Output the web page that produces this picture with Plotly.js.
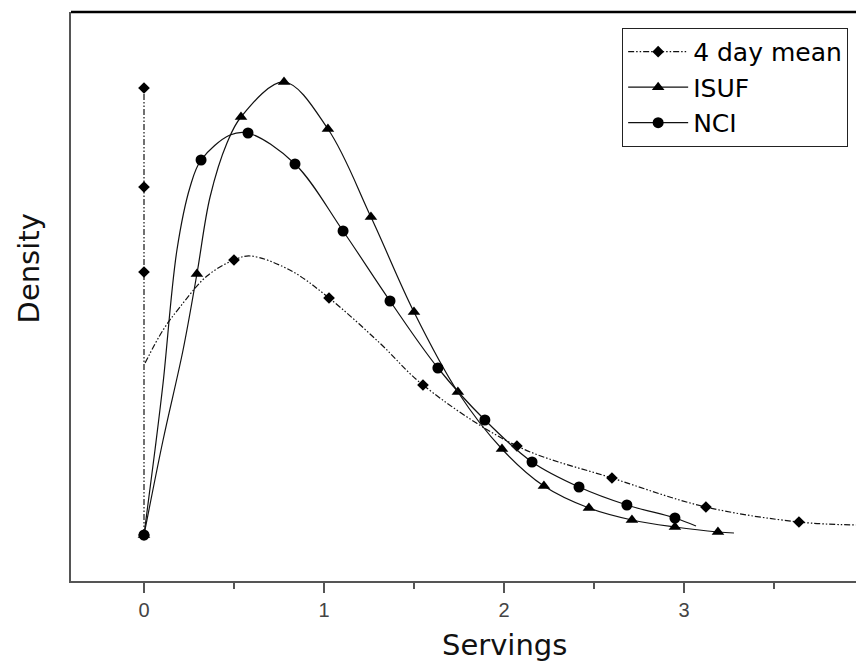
<!DOCTYPE html>
<html>
<head>
<meta charset="utf-8">
<script src="https://cdn.plot.ly/plotly-3.0.1.min.js"></script>
<style>html,body{margin:0;padding:0;background:#fff;}</style>
</head>
<body>
<div id="chart" style="width:856px;height:669px;"></div>
<script>
// ---- Data (servings vs density, arbitrary density units) ----
// 4 day mean: spike at zero servings
const meanZeroX = [0, 0, 0, 0];
const meanZeroY = [0, 0.526, 0.696, 0.894];
// 4 day mean: smooth curve (marked = diamond markers)
const meanX = [0.006, 0.106, 0.2, 0.35, 0.5, 0.59, 0.81, 1.028, 1.31, 1.55, 2.072, 2.6, 3.122, 3.639, 3.956];
const meanY = [0.344, 0.41, 0.456, 0.518, 0.55, 0.558, 0.53, 0.474, 0.384, 0.30, 0.178, 0.114, 0.056, 0.026, 0.02];
const meanMarked = [0, 0, 0, 0, 1, 0, 0, 1, 0, 1, 1, 1, 1, 1, 0];

// ISUF
const isufX = [0, 0.106, 0.217, 0.294, 0.367, 0.461, 0.539, 0.778, 1.022, 1.261, 1.5, 1.744, 1.989, 2.222, 2.472, 2.711, 2.95, 3.189, 3.278];
const isufY = [0, 0.19, 0.37, 0.522, 0.676, 0.784, 0.836, 0.906, 0.812, 0.636, 0.446, 0.286, 0.172, 0.098, 0.054, 0.030, 0.016, 0.006, 0.004];
const isufMarked = [1, 0, 0, 1, 0, 0, 1, 1, 1, 1, 1, 1, 1, 1, 1, 1, 1, 1, 0];

// NCI
const nciX = [0, 0.061, 0.106, 0.183, 0.256, 0.317, 0.478, 0.578, 0.839, 1.106, 1.367, 1.633, 1.894, 2.156, 2.417, 2.683, 2.95, 3.067];
const nciY = [0, 0.17, 0.304, 0.57, 0.696, 0.75, 0.80, 0.804, 0.742, 0.608, 0.468, 0.334, 0.23, 0.146, 0.096, 0.06, 0.034, 0.018];
const nciMarked = [1, 0, 0, 0, 0, 1, 0, 1, 1, 1, 1, 1, 1, 1, 1, 1, 1, 0];

const xTickVals = [0, 1, 2, 3];
const xTickText = ['0', '1', '2', '3'];
const seriesNames = ['4 day mean', 'ISUF', 'NCI'];
const xTitle = 'Servings';
const yTitle = 'Density';

const dashDotDot = '6px,2px,1.5px,2px,1.5px,2px';
const lineCol = '#111';
const markCol = '#000';
const textFont = 'DejaVu Sans, Liberation Sans, sans-serif';

function pick(arr, flags) { return arr.filter((v, i) => flags[i]); }

function series(name, xs, ys, flags, symbol, msize, dash) {
  return [
    { // smooth curve
      x: xs, y: ys, name: name, mode: 'lines', showlegend: false, legendgroup: name,
      line: {shape: 'spline', smoothing: 1, color: lineCol, width: 1.2, dash: dash || 'solid'}
    },
    { // markers
      x: pick(xs, flags), y: pick(ys, flags), name: name, mode: 'markers', showlegend: false, legendgroup: name,
      marker: {symbol: symbol, size: msize, color: markCol, opacity: 1, line: {width: 0}}
    },
    { // legend entry only
      x: [null], y: [null], name: name, mode: 'lines+markers', showlegend: true, legendgroup: name,
      line: {color: lineCol, width: 1.2, dash: dash || 'solid'},
      marker: {symbol: symbol, size: msize, color: markCol, opacity: 1, line: {width: 0}}
    }
  ];
}

const traces = [
  {
    x: meanZeroX, y: meanZeroY, name: seriesNames[0], mode: 'lines+markers', showlegend: false,
    line: {color: lineCol, width: 1.2, dash: dashDotDot},
    marker: {symbol: 'diamond', size: 9, color: markCol, opacity: 1, line: {width: 0}}
  },
  ...series(seriesNames[0], meanX, meanY, meanMarked, 'diamond', 9, dashDotDot),
  ...series(seriesNames[1], isufX, isufY, isufMarked, 'triangle-up', 11, null),
  ...series(seriesNames[2], nciX, nciY, nciMarked, 'circle', 11, null)
];

const layout = {
  width: 856, height: 669,
  margin: {l: 71, r: 0, t: 12, b: 88},
  paper_bgcolor: '#fff', plot_bgcolor: '#fff',
  font: {family: textFont, color: '#000'},
  showlegend: true,
  legend: {
    x: 0.99, y: 0.972, xanchor: 'right', yanchor: 'top',
    bordercolor: '#222', borderwidth: 1, bgcolor: '#fff',
    font: {size: 25, color: '#000', family: textFont}, itemwidth: 60, tracegroupgap: 0
  },
  xaxis: {
    range: [-0.4056, 3.956], showgrid: false, zeroline: false,
    showline: true, linecolor: '#555', linewidth: 2,
    ticks: 'outside', ticklen: 10, tickwidth: 1.5, tickcolor: '#555',
    tickvals: xTickVals, ticktext: xTickText,
    tickfont: {size: 20, color: '#444', family: 'Liberation Sans Narrow, Liberation Sans, sans-serif'},
    minor: {dtick: 0.5, tick0: 0, ticks: 'outside', ticklen: 6, tickwidth: 1.5, tickcolor: '#555', showgrid: false}
  },
  yaxis: {
    range: [-0.092, 1.046], showgrid: false, zeroline: false,
    showline: true, linecolor: '#555', linewidth: 2,
    showticklabels: false, ticks: ''
  },
  annotations: [
    {text: xTitle, xref: 'paper', yref: 'paper', x: 0.5516, y: -0.1125,
     xanchor: 'center', yanchor: 'middle', showarrow: false,
     font: {size: 29, color: '#111', family: textFont}},
    {text: yTitle, xref: 'paper', yref: 'paper', x: -0.053, y: 0.55,
     xanchor: 'center', yanchor: 'middle', textangle: -90, showarrow: false,
     font: {size: 29, color: '#111', family: textFont}}
  ],
  shapes: [
    {type: 'line', xref: 'paper', yref: 'paper', x0: 0, x1: 1, y0: 1, y1: 1,
     line: {color: '#000', width: 2.5}}
  ]
};

Plotly.newPlot('chart', traces, layout, {displayModeBar: false, staticPlot: true});
</script>
</body>
</html>
